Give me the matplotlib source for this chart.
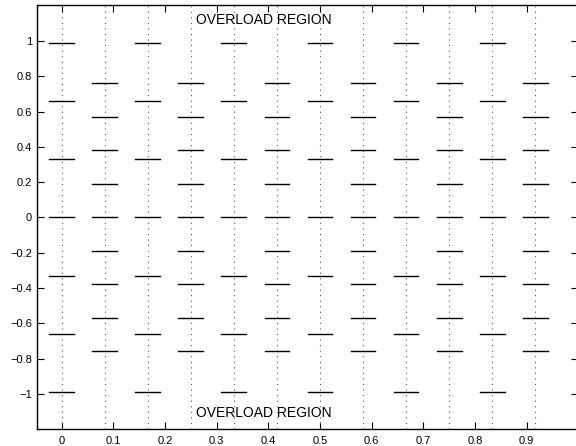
import numpy as np
import matplotlib
matplotlib.use('Agg')
import matplotlib.pyplot as plt

plt.rcParams['font.family'] = ['Liberation Sans', 'DejaVu Sans']

# column positions (k/12) and quantizer levels
cols = [k / 12.0 for k in range(12)]
levels_even = [-0.99, -0.66, -0.33, 0.0, 0.33, 0.66, 0.99]
levels_odd = [-0.76, -0.57, -0.38, -0.19, 0.0, 0.19, 0.38, 0.57, 0.76]
xticks = [0, 0.1, 0.2, 0.3, 0.4, 0.5, 0.6, 0.7, 0.8, 0.9]
yticks = [-1, -0.8, -0.6, -0.4, -0.2, 0, 0.2, 0.4, 0.6, 0.8, 1]
label = 'OVERLOAD REGION'

fig = plt.figure(figsize=(5.76, 4.46), dpi=100)
ax = fig.add_axes([0.064, 0.038, 0.94, 0.951])

hw = 0.024
for k, xc in enumerate(cols):
    ax.axvline(xc, color='0.35', ls=(0, (1, 4)), lw=0.8)
    lev = levels_even if k % 2 == 0 else levels_odd
    for v in lev:
        ax.plot([xc - hw, xc + hw], [v, v], color='k', lw=1.0)

ax.text(0.26, 1.12, label, fontsize=10, va='center', ha='left')
ax.text(0.26, -1.11, label, fontsize=10, va='center', ha='left')

ax.set_xlim(-0.048, 1.0)
ax.set_ylim(-1.2, 1.205)
ax.set_xticks(xticks)
ax.set_xticklabels([('%g' % t) for t in xticks])
ax.set_yticks(yticks)
ax.set_yticklabels([('%g' % t).replace('-', '\u2212') for t in yticks])
ax.tick_params(direction='in', top=True, right=True, labelsize=8, length=5)
ax.tick_params(axis='x', pad=5)
for s in ax.spines.values():
    s.set_linewidth(1.0)

fig.savefig('out.png', dpi=100)
